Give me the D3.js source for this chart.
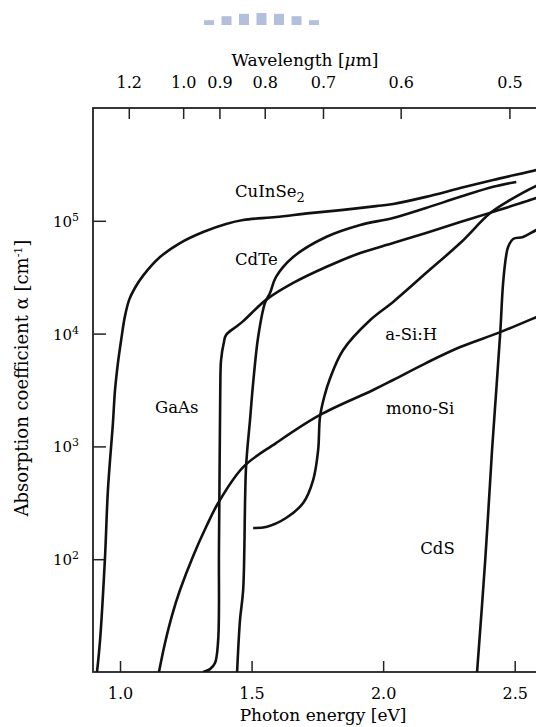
<!DOCTYPE html>
<html>
<head>
<meta charset="utf-8">
<script src="https://cdn.jsdelivr.net/npm/d3@7"></script>
<style>
  body { margin: 0; background: #fff; }
  text { font-family: "DejaVu Serif", serif; fill: #000; }
</style>
</head>
<body>
<div class="chart"></div>
<script>
// photon energy [eV], absorption coefficient [cm^-1]
const cuInSe2 = [[0.9125,10],[0.924,19],[0.943,105],[0.954,410],[0.973,1610],[0.981,3160],[0.992,5480],[1.005,9000],[1.018,14000],[1.035,20000],[1.057,25500],[1.087,32500],[1.152,47700],[1.228,63500],[1.316,79600],[1.403,93800],[1.468,101600],[1.593,108000],[1.722,117000],[1.848,125000],[1.973,135000],[2.038,141000],[2.163,163000],[2.293,195000],[2.418,230000],[2.582,282000],[2.6,290000]];
const gaAs = [[1.316,10],[1.342,10.6],[1.361,12],[1.373,19.2],[1.376,121],[1.379,929],[1.381,3160],[1.384,5830],[1.395,8430],[1.403,9730],[1.441,11500],[1.468,12900],[1.555,19900],[1.658,28100],[1.783,38900],[1.913,51900],[2.038,63500],[2.163,78000],[2.293,97500],[2.418,120000],[2.582,159000],[2.6,165000]];
const cdTe = [[1.445,10],[1.456,28.9],[1.468,53.3],[1.479,656],[1.494,1710],[1.506,3650],[1.525,9330],[1.551,18700],[1.570,22900],[1.593,31800],[1.658,47700],[1.783,71800],[1.913,91800],[2.038,106000],[2.163,130000],[2.293,163000],[2.418,200000],[2.506,221000]];
const monoSi = [[1.148,10],[1.171,18.1],[1.198,32],[1.228,53.3],[1.278,107],[1.327,193],[1.373,315],[1.468,656],[1.593,1070],[1.760,1900],[1.962,3160],[2.038,3880],[2.163,5480],[2.293,7600],[2.445,10300],[2.582,14000],[2.6,14600]];
const aSiH = [[1.506,189],[1.555,193],[1.631,232],[1.696,315],[1.734,503],[1.753,929],[1.760,1820],[1.776,2740],[1.798,4000],[1.848,7160],[1.951,13200],[2.038,19100],[2.163,34400],[2.293,63500],[2.407,117000],[2.483,153000],[2.582,204000],[2.6,212000]];
const cdS = [[2.357,10],[2.388,98],[2.414,929],[2.430,3160],[2.445,10100],[2.456,28100],[2.468,49800],[2.475,58600],[2.494,69000],[2.532,71800],[2.582,82800],[2.6,86000]];

const series = [cuInSe2, gaAs, cdTe, monoSi, aSiH, cdS];

// curve labels: name, energy and alpha at the start of the text baseline
const labelNames = ['CuInSe', 'CdTe', 'GaAs', 'a-Si:H', 'mono-Si', 'CdS'];
const labelE = [1.437, 1.437, 1.133, 2.008, 2.011, 2.141];
const labelA = [162000, 40500, 1980, 8770, 1940, 111];

const energyTicks = [1.0, 1.5, 2.0, 2.5];
const wavelengthTicks = [1.2, 1.0, 0.9, 0.8, 0.7, 0.6, 0.5];
const alphaTicks = [1e2, 1e3, 1e4, 1e5];

const W = 536, H = 727;
const margin = {left: 93, top: 108, bottom: 672, right: 541};

const x = d3.scaleLinear().domain([0.8973, 2.6]).range([margin.left, margin.right]);
const y = d3.scaleLog().domain([10, 1e6]).range([margin.bottom, margin.top]);

const svg = d3.select('.chart').append('svg')
    .attr('width', W)
    .attr('height', H);

// faint watermark at the top
const wm = svg.append('g').attr('fill', '#b2c0de');
[0, 1, 2, 3, 4, 5, 6].forEach(i => {
    const cx = 209 + i * 17.5;
    const yt = 13 + Math.pow(Math.abs(i - 3), 2) * 0.8;
    wm.append('rect').attr('x', cx - 5).attr('y', yt).attr('width', 10).attr('height', 25 - yt);
});

svg.append('defs').append('clipPath').attr('id', 'plot')
    .append('rect').attr('x', margin.left).attr('y', margin.top)
    .attr('width', margin.right - margin.left).attr('height', margin.bottom - margin.top);

// frame
svg.append('rect')
    .attr('x', margin.left).attr('y', margin.top)
    .attr('width', margin.right - margin.left).attr('height', margin.bottom - margin.top)
    .attr('fill', 'none').attr('stroke', '#222').attr('stroke-width', 1.8);

// bottom axis (energy)
const xAxis = d3.axisBottom(x).tickValues(energyTicks).tickFormat(d3.format('.1f'))
    .tickSizeInner(-11).tickSizeOuter(0).tickPadding(16);
svg.append('g').attr('class', 'axis x-axis')
    .attr('transform', `translate(0, ${margin.bottom})`)
    .call(xAxis)
    .call(g => g.select('.domain').remove())
    .call(g => g.selectAll('.tick line').attr('stroke', '#222').attr('stroke-width', 1.5))
    .call(g => g.selectAll('.tick text').attr('font-size', 16).attr('font-family', 'DejaVu Serif').attr('fill', '#000'));

// top axis (wavelength)
const topAxis = d3.axisTop(x).tickValues(wavelengthTicks.map(l => 1.24 / l))
    .tickFormat((d, i) => wavelengthTicks[i].toFixed(1))
    .tickSizeInner(-11).tickSizeOuter(0).tickPadding(20);
svg.append('g').attr('class', 'axis top-axis')
    .attr('transform', `translate(0, ${margin.top})`)
    .call(topAxis)
    .call(g => g.select('.domain').remove())
    .call(g => g.selectAll('.tick line').attr('stroke', '#222').attr('stroke-width', 1.5))
    .call(g => g.selectAll('.tick text').attr('font-size', 16).attr('font-family', 'DejaVu Serif').attr('fill', '#000'));

// left axis (alpha)
const yAxis = d3.axisLeft(y).tickValues(alphaTicks).tickFormat('')
    .tickSizeInner(-13).tickSizeOuter(0);
svg.append('g').attr('class', 'axis y-axis')
    .attr('transform', `translate(${margin.left}, 0)`)
    .call(yAxis)
    .call(g => g.select('.domain').remove())
    .call(g => g.selectAll('.tick line').attr('stroke', '#222').attr('stroke-width', 1.5));

const yLab = svg.append('g').selectAll('text')
    .data(alphaTicks)
    .enter()
    .append('text')
    .attr('x', 53)
    .attr('y', d => y(d) + 6)
    .attr('font-size', 15);
yLab.append('tspan').text('10');
yLab.append('tspan').attr('dy', -6).attr('font-size', 11).text(d => Math.round(Math.log10(d)));

// axis titles
const wl = svg.append('text')
    .attr('x', 305).attr('y', 66)
    .attr('text-anchor', 'middle')
    .attr('font-size', 17);
wl.append('tspan').text('Wavelength  [');
wl.append('tspan').attr('font-style', 'italic').text('μ');
wl.append('tspan').text('m]');

svg.append('text')
    .attr('x', 323).attr('y', 721)
    .attr('text-anchor', 'middle')
    .attr('font-size', 17)
    .text('Photon energy  [eV]');

const yt = svg.append('text')
    .attr('transform', 'translate(28, 378) rotate(-90)')
    .attr('text-anchor', 'middle')
    .attr('font-size', 18);
yt.append('tspan').text('Absorption coefficient  α  [cm');
yt.append('tspan').attr('dy', -6).attr('font-size', 11).text('-1');
yt.append('tspan').attr('dy', 6).text(']');

// curves
const line = d3.line()
    .x(d => x(d[0]))
    .y(d => y(d[1]))
    .curve(d3.curveCatmullRom.alpha(0.5));

svg.append('g')
    .attr('clip-path', 'url(#plot)')
    .selectAll('path')
    .data(series)
    .enter()
    .append('path')
    .attr('d', line)
    .attr('fill', 'none')
    .attr('stroke', '#111')
    .attr('stroke-width', 2.6)
    .attr('stroke-linejoin', 'round');

// curve labels
const lab = svg.append('g').selectAll('text')
    .data(labelNames)
    .enter()
    .append('text')
    .attr('x', (d, i) => x(labelE[i]))
    .attr('y', (d, i) => y(labelA[i]))
    .attr('font-size', 16.5);
lab.append('tspan').text(d => d);
lab.filter(d => d === 'CuInSe').append('tspan').attr('dy', 5).attr('font-size', 13).text('2');
</script>
</body>
</html>
